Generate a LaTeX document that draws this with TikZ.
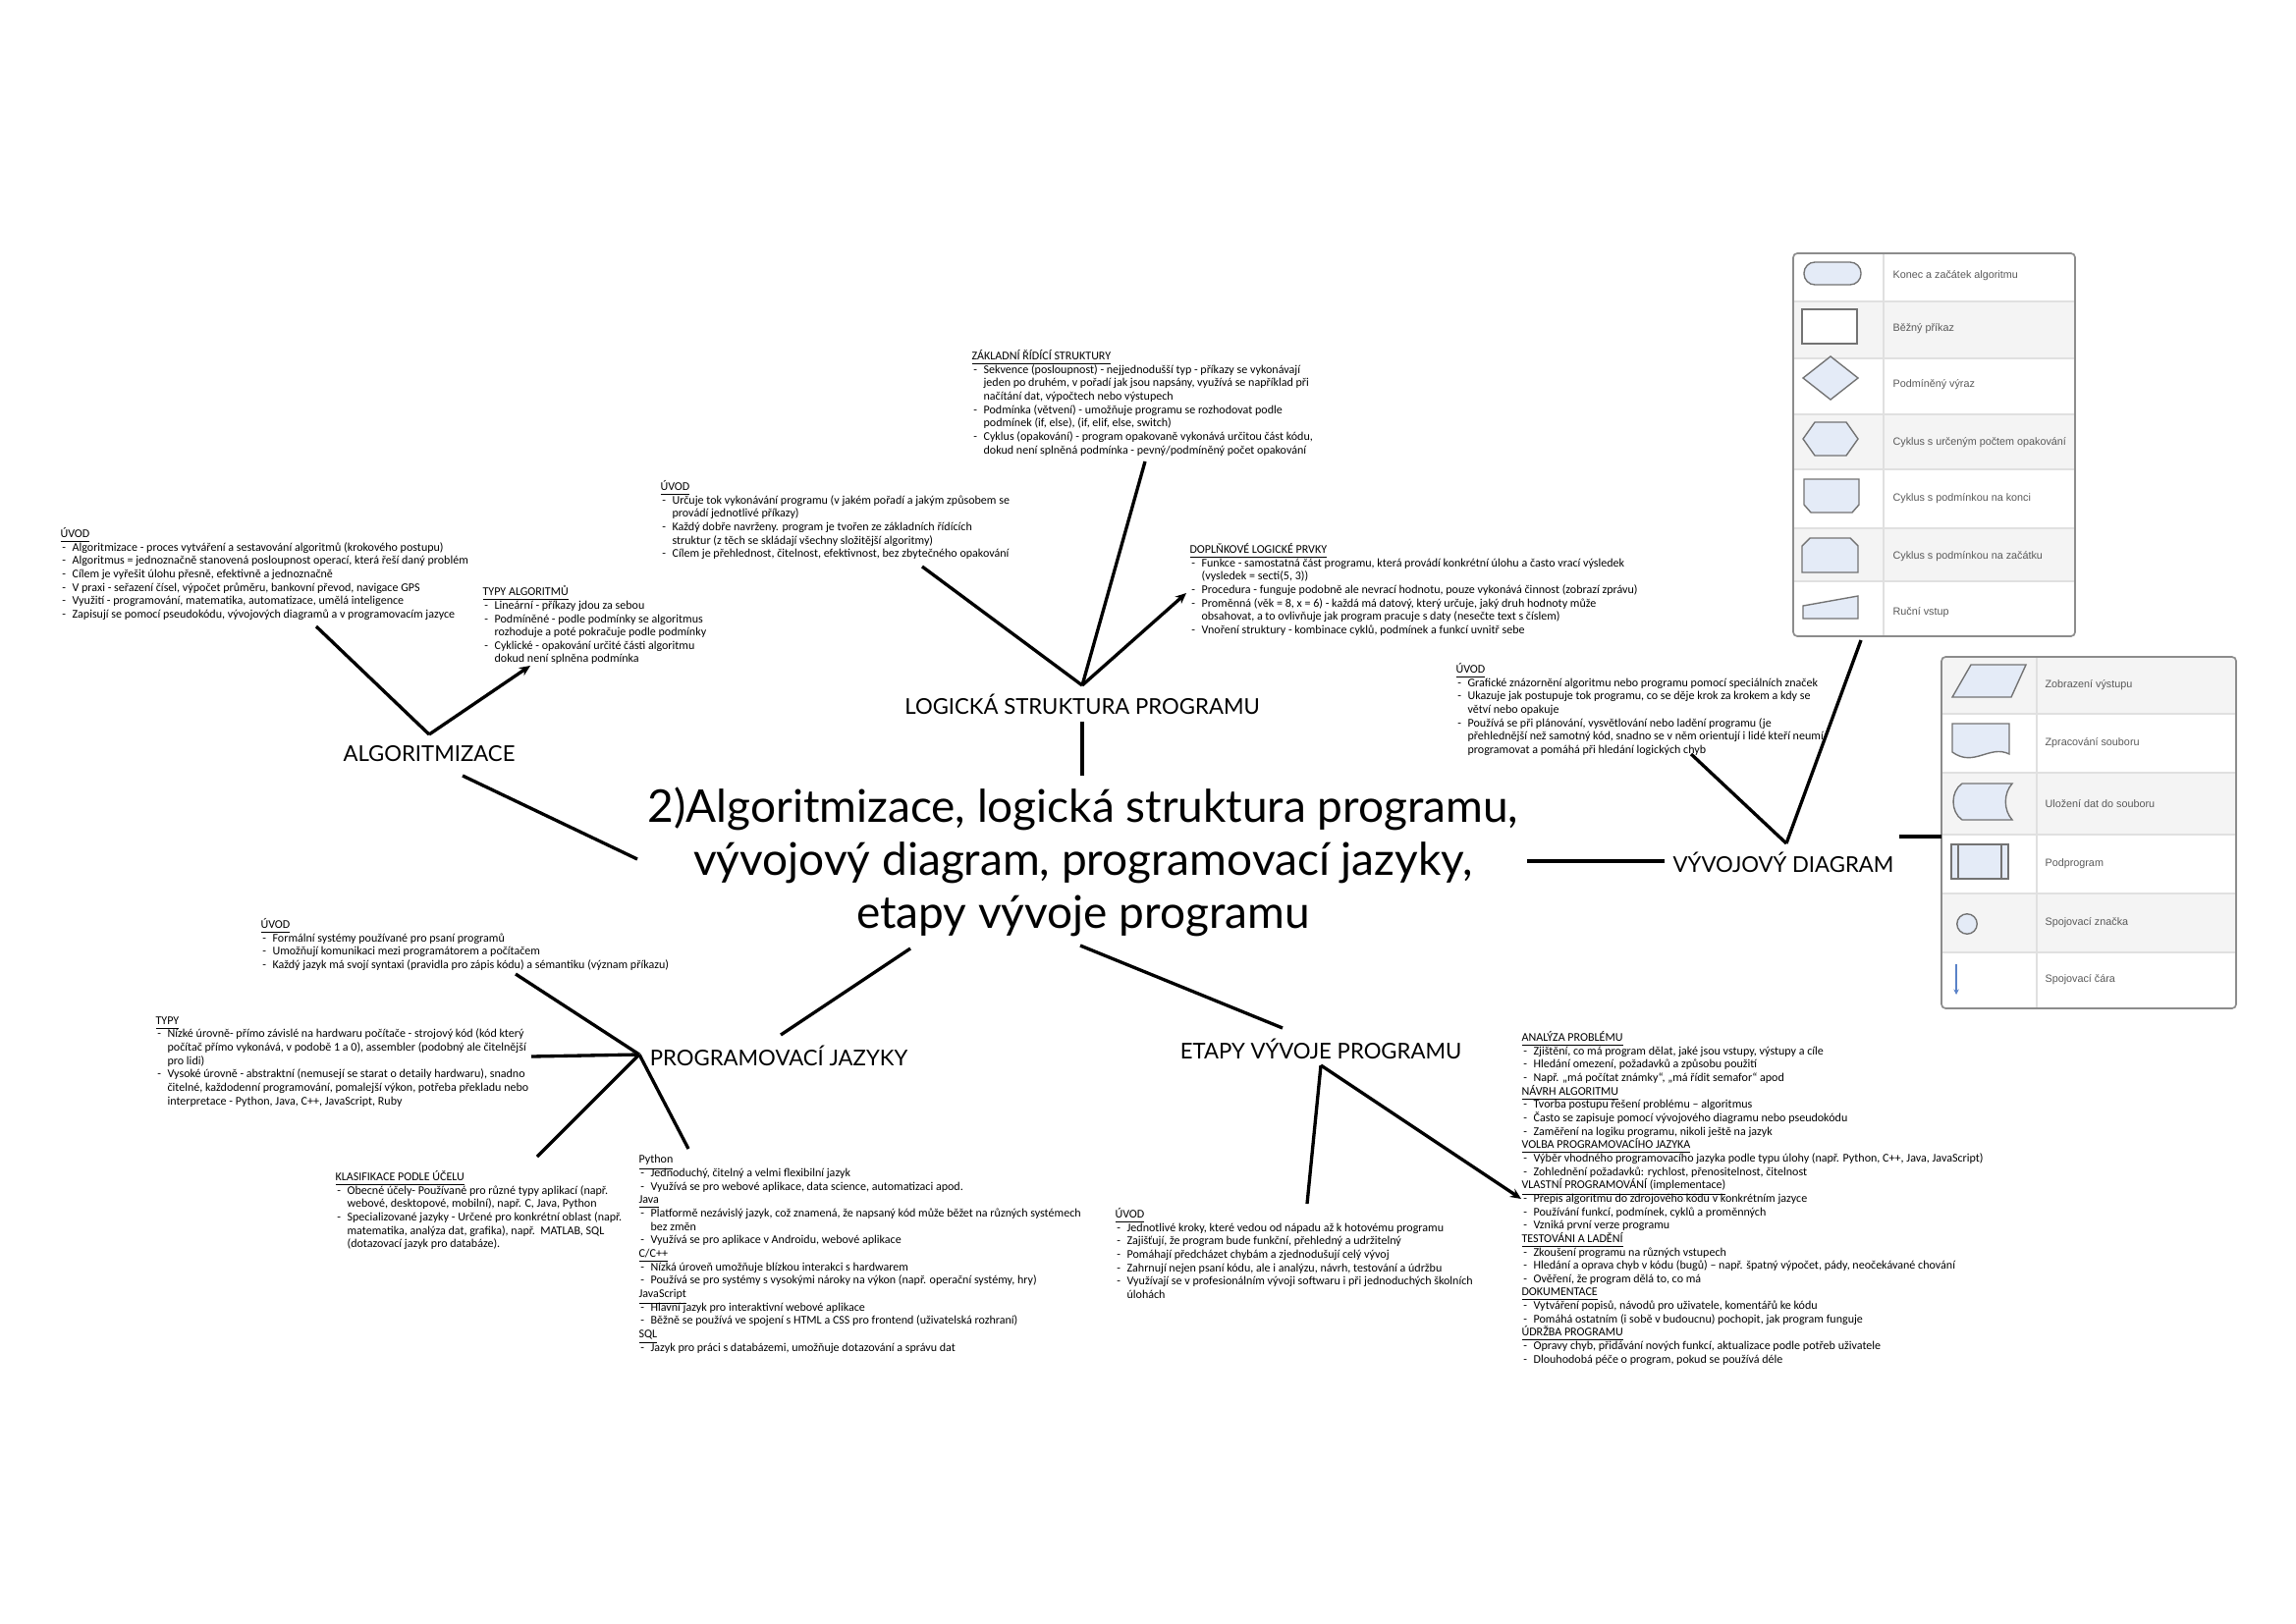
\documentclass[tikz,border=0pt]{standalone}
\usepackage{fontspec}
\setmainfont{Carlito}
\newfontfamily\headfont{Lato}
\newfontfamily\legfont{Liberation Sans}
\usetikzlibrary{arrows.meta, positioning}

\definecolor{symfill}{HTML}{E4EBF7}
\definecolor{rowgray}{HTML}{F4F4F4}
\definecolor{linkblue}{HTML}{5A82C8}

\newcommand{\hdr}[1]{\makebox[0pt][l]{\smash{\underline{#1}}}\phantom{#1}}
\newcommand{\dsh}{\makebox[1em][l]{\hspace{0.15em}-}}
\newcommand{\ind}{\hspace*{1em}}

\begin{document}
\begin{tikzpicture}[
    x=0.0127cm, y=-0.0127cm,
    txt/.style={
        anchor=north west,
        inner sep=0pt,
        align=left,
        font=\fontsize{4.35}{4.93}\selectfont
    },
    branch/.style={
        font=\headfont\fontsize{8}{9.6}\selectfont,
        inner sep=1pt
    },
    link/.style={
        line width=1.2pt,
        draw=black
    },
    tiplink/.style={
        link,
        -{Stealth[length=4pt,width=3.5pt]}
    },
    sym/.style={
        draw=black!55,
        fill=symfill,
        line width=0.5pt
    },
    legtxt/.style={
        anchor=west,
        inner sep=0pt,
        font=\legfont\fontsize{3.9}{4.6}\selectfont,
        text=black!65
    }
]
\useasboundingbox (0,0) rectangle (2338,1653);

% centre
\node[font=\headfont\fontsize{16.6}{19.6}\selectfont, align=center] (title) at (1103,878)
    {2)Algoritmizace, logická struktura programu,\\ vývojový diagram, programovací jazyky,\\ etapy vývoje programu};

% branches
\node[branch] (alg) at (437,768) {ALGORITMIZACE};
\node[branch] (logic) at (1102,717) {LOGICKÁ STRUKTURA PROGRAMU};
\node[branch] (flow) at (1816,878) {VÝVOJOVÝ DIAGRAM};
\node[branch] (lang) at (793,1075) {PROGRAMOVACÍ JAZYKY};
\node[branch] (stages) at (1345,1068) {ETAPY VÝVOJE PROGRAMU};

% ---- algoritmizace
\node[txt] (alg-intro) at (61,537) {\hdr{ÚVOD}\\
\dsh Algoritmizace - proces vytváření a sestavování algoritmů (krokového postupu)\\
\dsh Algoritmus = jednoznačně stanovená posloupnost operací, která řeší daný problém\\
\dsh Cílem je vyřešit úlohu přesně, efektivně a jednoznačně\\
\dsh V praxi - seřazení čísel, výpočet průměru, bankovní převod, navigace GPS\\
\dsh Využití - programování, matematika, automatizace, umělá inteligence\\
\dsh Zapisují se pomocí pseudokódu, vývojových diagramů a v programovacím jazyce};

\node[txt] (alg-types) at (491,596) {\hdr{TYPY ALGORITMŮ}\\
\dsh Lineární - příkazy jdou za sebou\\
\dsh Podmíněné - podle podmínky se algoritmus\\
\ind rozhoduje a poté pokračuje podle podmínky\\
\dsh Cyklické - opakování určité části algoritmu\\
\ind dokud není splněna podmínka};

% ---- logicka struktura
\node[txt] (logic-intro) at (672,489) {\hdr{ÚVOD}\\
\dsh Určuje tok vykonávání programu (v jakém pořadí a jakým způsobem se\\
\ind provádí jednotlivé příkazy)\\
\dsh Každý dobře navrženy. program je tvořen ze základních řídících\\
\ind struktur (z těch se skládají všechny složitější algoritmy)\\
\dsh Cílem je přehlednost, čitelnost, efektivnost, bez zbytečného opakování};

\node[txt] (logic-basic) at (989,356) {\hdr{ZÁKLADNÍ ŘÍDÍCÍ STRUKTURY}\\
\dsh Sekvence (posloupnost) - nejjednodušší typ - příkazy se vykonávají\\
\ind jeden po druhém, v pořadí jak jsou napsány, využívá se například při\\
\ind načítání dat, výpočtech nebo výstupech\\
\dsh Podmínka (větvení) - umožňuje programu se rozhodovat podle\\
\ind podmínek (if, else), (if, elif, else, switch)\\
\dsh Cyklus (opakování) - program opakovaně vykonává určitou část kódu,\\
\ind dokud není splněná podmínka - pevný/podmíněný počet opakování};

\node[txt] (logic-extra) at (1211,553) {\hdr{DOPLŇKOVÉ LOGICKÉ PRVKY}\\
\dsh Funkce - samostatná část programu, která provádí konkrétní úlohu a často vrací výsledek\\
\ind (vysledek = secti(5, 3))\\
\dsh Procedura - funguje podobně ale nevrací hodnotu, pouze vykonává činnost (zobrazí zprávu)\\
\dsh Proměnná (věk = 8, x = 6) - každá má datový, který určuje, jaký druh hodnoty může\\
\ind obsahovat, a to ovlivňuje jak program pracuje s daty (nesečte text s číslem)\\
\dsh Vnoření struktury - kombinace cyklů, podmínek a funkcí uvnitř sebe};

% ---- vyvojovy diagram
\node[txt] (flow-intro) at (1482,675) {\hdr{ÚVOD}\\
\dsh Grafické znázornění algoritmu nebo programu pomocí speciálních značek\\
\dsh Ukazuje jak postupuje tok programu, co se děje krok za krokem a kdy se\\
\ind větví nebo opakuje\\
\dsh Používá se při plánování, vysvětlování nebo ladění programu (je\\
\ind přehlednější než samotný kód, snadno se v něm orientují i lidé kteří neumí\\
\ind programovat a pomáhá při hledání logických chyb};

% legend, first box
\fill[white] (1826,258) rectangle (2113,307);
\fill[rowgray] (1826,307) rectangle (2113,365);
\fill[rowgray] (1826,422) rectangle (2113,478);
\fill[rowgray] (1826,538) rectangle (2113,592);
\draw[black!12, line width=0.6pt] (1826,307) -- (2113,307) (1826,365) -- (2113,365)
    (1826,422) -- (2113,422) (1826,478) -- (2113,478) (1826,538) -- (2113,538)
    (1826,592) -- (2113,592) (1918,258) -- (1918,648);
\draw[black!45, line width=0.6pt, rounded corners=1.5pt] (1826,258) rectangle (2113,648);
\draw[sym, rounded corners=4pt] (1837,267) rectangle (1895,290);
\draw[sym, fill=white] (1835,315) rectangle (1891,350);
\draw[sym] (1836,385) -- (1864,363) -- (1892,385) -- (1864,407) -- cycle;
\draw[sym] (1836,447) -- (1848,430) -- (1880,430) -- (1892,447) -- (1880,464) -- (1848,464) -- cycle;
\draw[sym] (1837,488) -- (1893,488) -- (1893,514) -- (1886,522) -- (1844,522) -- (1837,514) -- cycle;
\draw[sym] (1835,556) -- (1843,548) -- (1884,548) -- (1892,556) -- (1892,583) -- (1835,583) -- cycle;
\draw[sym] (1836,617) -- (1892,607) -- (1892,630) -- (1836,630) -- cycle;
\node[legtxt] (leg-a1) at (1927,281) {Konec a začátek algoritmu};
\node[legtxt] (leg-a2) at (1927,335) {Běžný příkaz};
\node[legtxt] (leg-a3) at (1927,392) {Podmíněný výraz};
\node[legtxt] (leg-a4) at (1927,451) {Cyklus s určeným počtem opakování};
\node[legtxt] (leg-a5) at (1927,508) {Cyklus s podmínkou na konci};
\node[legtxt] (leg-a6) at (1927,567) {Cyklus s podmínkou na začátku};
\node[legtxt] (leg-a7) at (1927,624) {Ruční vstup};

% legend, second box
\fill[rowgray] (1977,669) rectangle (2277,727);
\fill[rowgray] (1977,787) rectangle (2277,850);
\fill[rowgray] (1977,910) rectangle (2277,970);
\draw[black!12, line width=0.6pt] (1977,727) -- (2277,727) (1977,787) -- (2277,787)
    (1977,850) -- (2277,850) (1977,910) -- (2277,910) (1977,970) -- (2277,970)
    (2074,669) -- (2074,1027);
\draw[black!45, line width=0.6pt, rounded corners=1.5pt] (1977,669) rectangle (2277,1027);
\draw[sym] (1988,710) -- (2007,677) -- (2063,677) -- (2048,710) -- cycle;
\draw[sym] (1988,737) -- (2046,737) -- (2046,768) .. controls (2026,758) and (2010,782) .. (1988,766) -- cycle;
\draw[sym] (1998,798) -- (2049,798) .. controls (2040,808) and (2040,825) .. (2049,835) -- (1998,835)
    .. controls (1986,827) and (1986,806) .. (1998,798) -- cycle;
\draw[sym] (1987,860) rectangle (2045,895);
\draw[black!55, line width=0.5pt] (1994,860) -- (1994,895) (2038,860) -- (2038,895);
\draw[sym] (2003,941) circle[radius=1.3mm];
\draw[linkblue, line width=0.4pt, -{Stealth[length=2pt,width=2pt]}] (1992,982) -- (1992,1013);
\node[legtxt] (leg-b1) at (2082,698) {Zobrazení výstupu};
\node[legtxt] (leg-b2) at (2082,757) {Zpracování souboru};
\node[legtxt] (leg-b3) at (2082,819) {Uložení dat do souboru};
\node[legtxt] (leg-b4) at (2082,880) {Podprogram};
\node[legtxt] (leg-b5) at (2082,940) {Spojovací značka};
\node[legtxt] (leg-b6) at (2082,998) {Spojovací čára};

% ---- programovaci jazyky
\node[txt] (lang-intro) at (265,935) {\hdr{ÚVOD}\\
\dsh Formální systémy používané pro psaní programů\\
\dsh Umožňují komunikaci mezi programátorem a počítačem\\
\dsh Každý jazyk má svojí syntaxi (pravidla pro zápis kódu) a sémantiku (význam příkazu)};

\node[txt] (lang-types) at (158,1035) {\hdr{TYPY}\\
\dsh Nízké úrovně- přímo závislé na hardwaru počítače - strojový kód (kód který\\
\ind počítač přímo vykonává, v podobě 1 a 0), assembler (podobný ale čitelnější\\
\ind pro lidi)\\
\dsh Vysoké úrovně - abstraktní (nemusejí se starat o detaily hardwaru), snadno\\
\ind čitelné, každodenní programování, pomalejší výkon, potřeba překladu nebo\\
\ind interpretace - Python, Java, C++, JavaScript, Ruby};

\node[txt] (lang-purpose) at (341,1192) {\hdr{KLASIFIKACE PODLE ÚČELU}\\
\dsh Obecné účely- Používané pro různé typy aplikací (např.\\
\ind webové, desktopové, mobilní), např. C, Java, Python\\
\dsh Specializované jazyky - Určené pro konkrétní oblast (např.\\
\ind matematika, analýza dat, grafika), např.\ \ MATLAB, SQL\\
\ind (dotazovací jazyk pro databáze).};

\node[txt] (lang-list) at (650,1176) {\hdr{Python}\\
\dsh Jednoduchý, čitelný a velmi flexibilní jazyk\\
\dsh Využívá se pro webové aplikace, data science, automatizaci apod.\\
\hdr{Java}\\
\dsh Platformě nezávislý jazyk, což znamená, že napsaný kód může běžet na různých systémech\\
\ind bez změn\\
\dsh Využívá se pro aplikace v Androidu, webové aplikace\\
\hdr{C/C++}\\
\dsh Nízká úroveň umožňuje blízkou interakci s hardwarem\\
\dsh Používá se pro systémy s vysokými nároky na výkon (např. operační systémy, hry)\\
\hdr{JavaScript}\\
\dsh Hlavní jazyk pro interaktivní webové aplikace\\
\dsh Běžně se používá ve spojení s HTML a CSS pro frontend (uživatelská rozhraní)\\
\hdr{SQL}\\
\dsh Jazyk pro práci s databázemi, umožňuje dotazování a správu dat};

% ---- etapy vyvoje
\node[txt] (stages-intro) at (1135,1230) {\hdr{ÚVOD}\\
\dsh Jednotlivé kroky, které vedou od nápadu až k hotovému programu\\
\dsh Zajišťují, že program bude funkční, přehledný a udržitelný\\
\dsh Pomáhají předcházet chybám a zjednodušují celý vývoj\\
\dsh Zahrnují nejen psaní kódu, ale i analýzu, návrh, testování a údržbu\\
\dsh Využívají se v profesionálním vývoji softwaru i při jednoduchých školních\\
\ind úlohách};

\node[txt] (stages-list) at (1549,1050) {\hdr{ANALÝZA PROBLÉMU}\\
\dsh Zjištění, co má program dělat, jaké jsou vstupy, výstupy a cíle\\
\dsh Hledání omezení, požadavků a způsobu použití\\
\dsh Např. „má počítat známky“, „má řídit semafor“ apod\\
\hdr{NÁVRH ALGORITMU}\\
\dsh Tvorba postupu řešení problému – algoritmus\\
\dsh Často se zapisuje pomocí vývojového diagramu nebo pseudokódu\\
\dsh Zaměření na logiku programu, nikoli ještě na jazyk\\
\hdr{VOLBA PROGRAMOVACÍHO JAZYKA}\\
\dsh Výběr vhodného programovacího jazyka podle typu úlohy (např. Python, C++, Java, JavaScript)\\
\dsh Zohlednění požadavků: rychlost, přenositelnost, čitelnost\\
\hdr{VLASTNÍ PROGRAMOVÁNÍ (implementace)}\\
\dsh Přepis algoritmu do zdrojového kódu v konkrétním jazyce\\
\dsh Používání funkcí, podmínek, cyklů a proměnných\\
\dsh Vzniká první verze programu\\
\hdr{TESTOVÁNI A LADĚNÍ}\\
\dsh Zkoušení programu na různých vstupech\\
\dsh Hledání a oprava chyb v kódu (bugů) – např. špatný výpočet, pády, neočekávané chování\\
\dsh Ověření, že program dělá to, co má\\
\hdr{DOKUMENTACE}\\
\dsh Vytváření popisů, návodů pro uživatele, komentářů ke kódu\\
\dsh Pomáhá ostatním (i sobě v budoucnu) pochopit, jak program funguje\\
\hdr{ÚDRŽBA PROGRAMU}\\
\dsh Opravy chyb, přidávání nových funkcí, aktualizace podle potřeb uživatele\\
\dsh Dlouhodobá péče o program, pokud se používá déle};

% connector ends
\coordinate (t-alg) at (649,875);
\coordinate (b-alg) at (471,790);
\coordinate (t-logic) at (1102,790);
\coordinate (b-logic) at (1102,735);
\coordinate (t-flow) at (1555,877);
\coordinate (b-flow) at (1695,877);
\coordinate (t-lang) at (927,966);
\coordinate (b-lang) at (795,1054);
\coordinate (t-stages) at (1100,963);
\coordinate (b-stages) at (1306,1047);

\coordinate (alg-hub) at (437,748);
\coordinate (alg-e1) at (322,638);
\coordinate (alg-e2) at (540,678);
\coordinate (logic-hub) at (1102,698);
\coordinate (logic-e1) at (939,577);
\coordinate (logic-e2) at (1166,470);
\coordinate (logic-e3) at (1208,604);
\coordinate (flow-hub) at (1819,859);
\coordinate (flow-e1) at (1722,768);
\coordinate (flow-e2) at (1895,652);
\coordinate (flow-e3) at (1934,852);
\coordinate (flow-e4) at (1977,852);
\coordinate (lang-hub) at (651,1074);
\coordinate (lang-e1) at (525,992);
\coordinate (lang-e2) at (541,1076);
\coordinate (lang-e3) at (547,1178);
\coordinate (lang-e4) at (701,1170);
\coordinate (stages-hub) at (1345,1085);
\coordinate (stages-e1) at (1331,1226);
\coordinate (stages-e2) at (1549,1221);

% main links
\draw[link] (t-alg) -- (b-alg);
\draw[link] (t-logic) -- (b-logic);
\draw[link] (t-flow) -- (b-flow);
\draw[link] (t-lang) -- (b-lang);
\draw[link] (t-stages) -- (b-stages);

% sub links
\draw[link] (alg-hub) -- (alg-e1);
\draw[tiplink] (alg-hub) -- (alg-e2);
\draw[link] (logic-hub) -- (logic-e1);
\draw[link] (logic-hub) -- (logic-e2);
\draw[tiplink] (logic-hub) -- (logic-e3);
\draw[link] (flow-hub) -- (flow-e1);
\draw[link] (flow-hub) -- (flow-e2);
\draw[link] (flow-e3) -- (flow-e4);
\draw[link] (lang-hub) -- (lang-e1);
\draw[link] (lang-hub) -- (lang-e2);
\draw[link] (lang-hub) -- (lang-e3);
\draw[link] (lang-hub) -- (lang-e4);
\draw[link] (stages-hub) -- (stages-e1);
\draw[tiplink] (stages-hub) -- (stages-e2);

\end{tikzpicture}
\end{document}
